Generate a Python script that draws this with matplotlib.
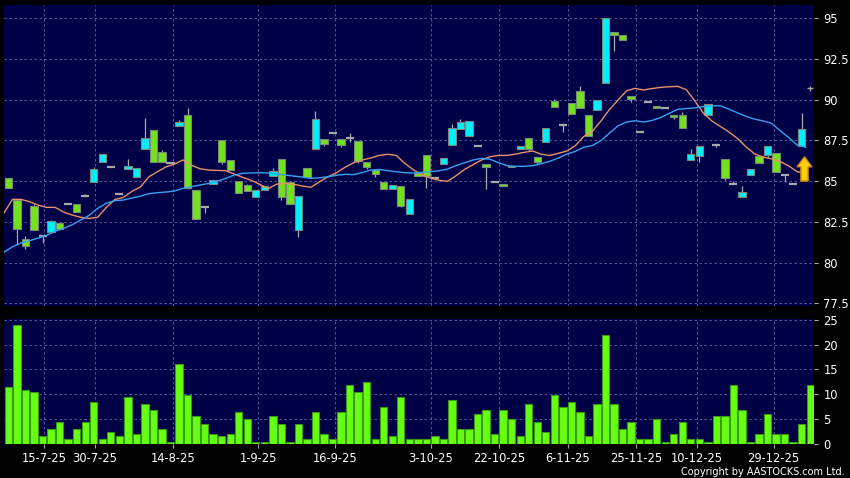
import numpy as np
import matplotlib
matplotlib.use("Agg")
import matplotlib.pyplot as plt
from matplotlib.patches import Rectangle, FancyArrow

# daily candles (price)
opens = [85.2, 83.85, 81.45, 83.5, 81.6, 81.9, 82.42, 83.6, 83.6, 84.1,
         84.95, 86.2, 85.85, 84.2, 85.75, 85.25, 87.0, 88.15, 86.8, 86.1,
         88.4, 89.05, 84.45, 83.4, 84.8, 87.5, 86.3, 85.0, 84.75, 84.0,
         84.47, 85.3, 86.35, 84.95, 82.0, 85.82, 87.0, 87.6, 87.95, 87.6,
         87.65, 87.48, 86.2, 85.7, 84.95, 84.5, 84.72, 83.0, 85.5, 86.62,
         85.18, 86.08, 87.2, 88.22, 87.8, 87.18, 86.08, 84.93, 84.84, 85.93,
         87.0, 87.67, 86.5, 87.38, 89.92, 88.43, 89.82, 90.52, 89.04, 89.4,
         91.0, 94.15, 93.95, 90.25, 88.0, 89.84, 89.63, 89.47, 89.04, 89.05,
         86.32, 86.52, 89.05, 87.23, 86.34, 84.8, 84.0, 85.36, 86.52, 86.6,
         86.75, 85.36, 84.8, 87.17, 90.7]
closes = [84.6, 82.07, 81.0, 82.0, 81.6, 82.55, 82.05, 83.6, 83.1, 84.1,
          85.75, 86.65, 85.85, 84.2, 85.9, 85.82, 87.65, 86.15, 86.2, 86.1,
          88.65, 84.6, 82.65, 83.4, 85.05, 86.2, 85.7, 84.25, 84.4, 84.45,
          84.7, 85.65, 84.0, 83.6, 84.1, 85.25, 88.8, 87.28, 87.95, 87.25,
          87.65, 86.25, 85.85, 85.42, 84.5, 84.78, 83.5, 83.92, 85.3, 85.3,
          85.18, 86.45, 88.25, 88.62, 88.72, 87.18, 85.84, 84.93, 84.72, 85.85,
          87.17, 87.0, 86.18, 88.24, 89.57, 88.43, 89.1, 89.47, 87.8, 90.0,
          95.0, 93.95, 93.7, 90.02, 88.0, 89.84, 89.47, 89.47, 88.92, 88.25,
          86.65, 87.17, 89.72, 87.23, 85.22, 84.8, 84.36, 85.76, 86.09, 87.15,
          85.54, 85.36, 84.8, 88.2, 90.7]
highs = [85.2, 83.9, 81.6, 83.6, 81.6, 82.6, 82.42, 83.6, 83.6, 84.2,
         85.85, 86.65, 85.85, 84.2, 86.35, 85.82, 88.85, 88.15, 86.9, 86.1,
         88.77, 89.5, 84.45, 83.4, 85.05, 87.5, 86.3, 85.0, 84.85, 84.45,
         84.7, 85.8, 86.35, 84.95, 84.1, 85.82, 89.3, 87.6, 87.95, 87.6,
         87.95, 87.48, 86.2, 85.7, 84.95, 84.78, 84.72, 83.92, 85.5, 86.62,
         85.18, 86.45, 88.5, 88.8, 88.72, 87.18, 86.08, 84.93, 84.84, 85.93,
         87.17, 87.67, 86.5, 88.24, 90.05, 88.43, 89.82, 90.85, 89.04, 90.0,
         95.0, 94.15, 93.95, 90.25, 88.0, 89.84, 89.63, 89.47, 89.04, 89.25,
         87.0, 87.17, 89.72, 87.23, 86.34, 85.0, 84.68, 85.76, 86.52, 87.15,
         86.75, 85.36, 84.8, 89.17, 90.85]
lows = [84.6, 81.1, 80.85, 82.0, 81.2, 81.9, 82.05, 83.6, 83.1, 84.1,
        84.95, 86.2, 85.85, 84.2, 85.75, 85.25, 87.0, 86.15, 86.2, 86.1,
        88.4, 84.5, 82.65, 83.05, 84.8, 86.05, 85.7, 84.25, 84.4, 84.0,
        84.47, 85.3, 83.85, 83.6, 81.55, 85.25, 87.0, 87.15, 87.95, 87.1,
        87.4, 86.1, 85.72, 85.28, 84.5, 84.5, 83.42, 83.0, 85.3, 84.6,
        85.18, 86.08, 87.2, 88.22, 87.8, 87.18, 84.5, 84.93, 84.72, 85.85,
        87.0, 86.85, 86.05, 87.38, 89.57, 88.0, 89.1, 89.47, 87.8, 89.4,
        91.0, 93.0, 93.7, 89.88, 88.0, 89.84, 89.47, 89.47, 88.8, 88.25,
        86.32, 86.2, 89.05, 87.1, 85.07, 84.8, 84.0, 85.36, 86.09, 86.5,
        85.54, 84.97, 84.8, 87.17, 90.55]
volume = [11.4, 23.9, 10.9, 10.4, 1.5, 3.0, 4.4, 0.9, 3.0, 4.4,
          8.4, 0.9, 2.4, 1.5, 9.4, 2.0, 8.0, 6.9, 3.0, 0.4,
          16.0, 9.9, 5.5, 3.9, 2.0, 1.5, 2.0, 6.5, 5.0, 0.4,
          0.4, 5.5, 3.9, 0.4, 3.9, 0.9, 6.5, 2.0, 0.9, 6.5,
          11.9, 10.4, 12.4, 0.9, 7.4, 1.5, 9.4, 0.9, 0.9, 1.0,
          1.5, 1.0, 8.9, 3.0, 3.0, 5.9, 6.9, 2.0, 6.9, 5.0,
          1.5, 8.0, 4.4, 2.4, 9.9, 7.4, 8.4, 6.5, 1.5, 8.0,
          21.9, 8.0, 3.0, 4.4, 0.9, 0.9, 5.0, 0.4, 2.0, 4.4,
          0.9, 0.9, 0.4, 5.5, 5.5, 11.9, 6.9, 0.4, 2.0, 5.9,
          2.0, 2.0, 0.4, 3.9, 11.9]

# moving averages, first value belongs to the day before the window
ma_short = [83.04, 83.88, 83.88, 83.74, 83.53, 83.39, 83.39, 83.1, 82.92, 82.78,
            82.71, 82.78, 83.38, 83.87, 84.0, 84.37, 84.64, 85.27, 85.58, 85.88,
            86.05, 86.3, 85.97, 85.76, 85.68, 85.66, 85.64, 85.44, 85.23, 85.05,
            84.8, 84.54, 84.82, 84.86, 84.8, 84.7, 84.62, 84.96, 85.27, 85.52,
            85.85, 86.13, 86.3, 86.42, 86.58, 86.65, 86.58, 86.09, 85.7, 85.39,
            85.19, 85.05, 84.99, 85.33, 85.72, 86.01, 86.3, 86.5, 86.58, 86.58,
            86.66, 86.77, 86.85, 86.65, 86.58, 86.71, 86.85, 87.18, 87.75, 88.07,
            88.7, 89.4, 89.98, 90.55, 90.7, 90.6, 90.69, 90.76, 90.8, 90.82,
            90.62, 89.93, 89.18, 88.7, 88.36, 88.02, 87.62, 87.11, 86.68, 86.48,
            86.37, 86.2, 85.94, 85.58, 85.5]
ma_long = [80.63, 80.97, 81.2, 81.34, 81.5, 81.67, 81.92, 82.1, 82.32, 82.61,
           82.9, 83.33, 83.64, 83.8, 83.84, 83.96, 84.08, 84.23, 84.29, 84.33,
           84.39, 84.56, 84.66, 84.76, 84.86, 84.99, 85.17, 85.37, 85.48, 85.5,
           85.52, 85.5, 85.44, 85.37, 85.31, 85.25, 85.17, 85.21, 85.27, 85.36,
           85.42, 85.4, 85.52, 85.68, 85.72, 85.64, 85.58, 85.52, 85.5, 85.54,
           85.58, 85.64, 85.74, 85.95, 86.13, 86.3, 86.4, 86.34, 86.13, 85.95,
           85.91, 85.91, 85.95, 86.07, 86.22, 86.42, 86.66, 86.83, 87.09, 87.19,
           87.49, 87.95, 88.4, 88.63, 88.71, 88.63, 88.73, 88.91, 89.16, 89.41,
           89.46, 89.5, 89.58, 89.63, 89.63, 89.42, 89.2, 88.98, 88.81, 88.7,
           88.55, 88.1, 87.68, 87.22, 87.08]

tick_labels = ['15-7-25', '30-7-25', '14-8-25', '1-9-25', '16-9-25', '3-10-25',
               '22-10-25', '6-11-25', '25-11-25', '10-12-25', '29-12-25']
tick_at = [4.15, 10.15, 19.3, 29.3, 38.3, 49.5, 57.5, 65.6, 73.6, 80.7, 89.7]

price_ticks = [77.5, 80, 82.5, 85, 87.5, 90, 92.5, 95]
vol_ticks = [0, 5, 10, 15, 20, 25]

BG = '#000046'
GRID = '#6464a0'
GREEN = '#72e21e'
VGREEN = '#66ff14'
CYAN = '#00f0ff'
GRAY = '#a8a8a8'

plt.rcParams['font.family'] = ['DejaVu Sans']
fig = plt.figure(figsize=(8.5, 4.78), dpi=100, facecolor='black')
W, H = 850.0, 478.0
ax = fig.add_axes([4 / W, 1 - 306 / H, 810.3 / W, 301 / H])
axv = fig.add_axes([4 / W, 1 - 444 / H, 810.3 / W, 124.7 / H])

n = len(opens)
for a in (ax, axv):
    a.set_facecolor(BG)
    a.set_xlim(-0.52, 94.48)
    for s in a.spines.values():
        s.set_visible(False)
    a.grid(True, color=GRID, linestyle=(0, (3, 3)), linewidth=0.6)
    a.set_axisbelow(True)
    a.yaxis.tick_right()
    a.tick_params(axis='y', colors=GRAY, labelcolor='white', direction='out',
                  length=3, width=0.8, pad=3.5, labelsize=8.3)
    a.set_xticks(tick_at)

ax.set_ylim(77.33, 95.82)
ax.set_yticks(price_ticks)
ax.set_yticklabels(['%g' % t for t in price_ticks])
ax.tick_params(axis='x', length=0, labelbottom=False)

# candles
bw = 0.86
for i in range(n - 1):
    o, h, l, c = opens[i], highs[i], lows[i], closes[i]
    if h > max(o, c) or l < min(o, c):
        ax.vlines(i, l, h, color=GRAY, linewidth=0.9, zorder=2)
    if o == c:
        ax.hlines(o, i - 0.47, i + 0.47, color=GRAY, linewidth=1.6, zorder=3)
    else:
        col = CYAN if c > o else GREEN
        ax.add_patch(Rectangle((i - bw / 2, min(o, c)), bw, abs(c - o),
                               facecolor=col, edgecolor='#7a8a7a',
                               linewidth=0.8, zorder=3))
# latest quote marker
last = n - 1
ax.hlines(opens[last], last - 0.38, last + 0.38, color=GRAY, linewidth=1.0, zorder=3)
ax.vlines(last, lows[last], highs[last], color=GRAY, linewidth=1.0, zorder=3)

xm = np.arange(-1, len(ma_short) - 1) + 0.47
ax.plot(xm, ma_short, color='#e8906a', linewidth=1.0, zorder=4)
ax.plot(xm, ma_long, color='#3aa0f0', linewidth=1.0, zorder=4)

arrow = FancyArrow(93.33, 85.0, 0, 1.5, width=0.85, head_width=1.75,
                   head_length=0.62, length_includes_head=True,
                   facecolor='#ffcc10', edgecolor='#c08a00', linewidth=1.0,
                   zorder=6)
ax.add_patch(arrow)

# volume
axv.bar(np.arange(n), volume, width=bw, color=VGREEN, edgecolor='#3a9a10',
        linewidth=0.8, zorder=3)
axv.set_ylim(-0.05, 25.1)
axv.set_yticks(vol_ticks)
axv.set_yticklabels(['%d' % t for t in vol_ticks])
axv.set_xticklabels(tick_labels)
axv.tick_params(axis='x', colors=GRAY, labelcolor='white', direction='out',
                length=3, width=0.8, pad=3, labelsize=8.3)

fig.text(845 / W, 1 - 475 / H, 'Copyright by AASTOCKS.com Ltd.', color='white',
         fontsize=7.0, ha='right', va='baseline')

fig.savefig('out.png', dpi=100, facecolor='black')
